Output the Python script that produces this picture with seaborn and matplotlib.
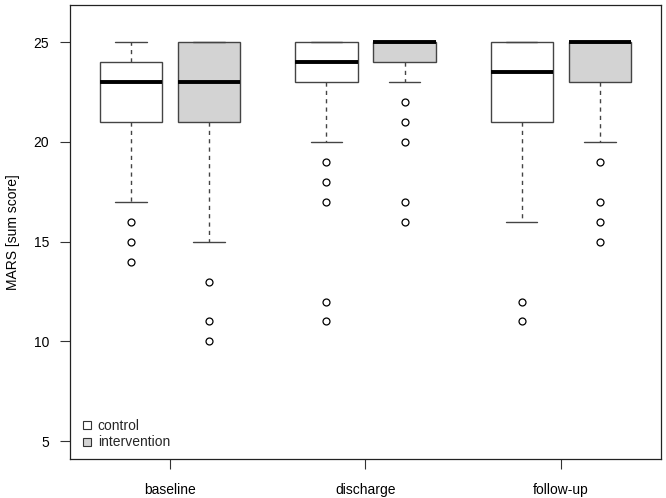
import matplotlib
matplotlib.use("Agg")
import matplotlib.pyplot as plt
from matplotlib.lines import Line2D
import seaborn as sns

# time points and groups
timepoints = ["baseline", "discharge", "follow-up"]
groups = ["control", "intervention"]
group_colors = ["white", "#d3d3d3"]

# box statistics, order: baseline ctrl/int, discharge ctrl/int, follow-up ctrl/int
whislo = [17, 15, 20, 23, 16, 20]
q1 = [21, 21, 23, 24, 21, 23]
med = [23, 23, 24, 25, 23.5, 25]
q3 = [24, 25, 25, 25, 25, 25]
whishi = [25, 25, 25, 25, 25, 25]
fliers = [
    [16, 15, 14],
    [13, 11, 10],
    [19, 18, 17, 12, 11],
    [22, 21, 20, 17, 16],
    [12, 11],
    [19, 17, 16, 15],
]

positions = [1, 2, 3.5, 4.5, 6, 7]
tick_pos = [1.5, 4, 6.5]

sns.set_style("ticks")
plt.rcParams['font.family'] = ['Liberation Sans', 'DejaVu Sans']

fig = plt.figure(figsize=(6.66, 4.98), dpi=100)
ax = fig.add_axes([0.105, 0.078, 0.8875, 0.912])

stats = []
for i in range(len(positions)):
    stats.append(dict(whislo=whislo[i], q1=q1[i], med=med[i], q3=q3[i],
                      whishi=whishi[i], fliers=fliers[i]))

bp = ax.bxp(stats, positions=positions, widths=0.8, patch_artist=True,
            boxprops=dict(edgecolor="#444444", linewidth=1),
            medianprops=dict(color="black", linewidth=2.8, solid_capstyle="butt"),
            whiskerprops=dict(color="#444444", linestyle=(0, (3, 3)), linewidth=1),
            capprops=dict(color="#444444", linewidth=1),
            flierprops=dict(marker="o", markerfacecolor="none", markeredgecolor="black",
                            markersize=5, markeredgewidth=0.9),
            capwidths=0.4)
for i, patch in enumerate(bp["boxes"]):
    patch.set_facecolor(group_colors[i % 2])

ax.set_xlim(0.22, 7.78)
ax.set_ylim(4.1, 26.86)
ax.set_yticks([5, 10, 15, 20, 25])
ax.set_xticks(tick_pos)
ax.set_xticklabels(timepoints)
ax.tick_params(axis="both", direction="out", length=7, width=0.8, color="#333333",
               labelsize=10, colors="black", pad=8)
ax.tick_params(axis="x", pad=10)
ax.set_ylabel("MARS [sum score]", fontsize=10, labelpad=10, color="black")
for sp in ax.spines.values():
    sp.set_color("#222222")
    sp.set_linewidth(0.9)

handles = [Line2D([], [], marker="s", linestyle="none", markersize=6,
                  markerfacecolor=c, markeredgecolor="#333333", markeredgewidth=0.8)
           for c in group_colors]
ax.legend(handles, groups, loc="lower left", frameon=False, fontsize=10,
          handletextpad=0.3, borderaxespad=0.3, labelspacing=0.15, handlelength=1.0)

fig.savefig("out.png", dpi=100)
